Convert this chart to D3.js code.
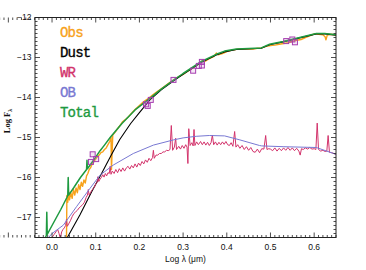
<!DOCTYPE html>
<html>
<head>
<meta charset="utf-8">
<script src="https://cdn.jsdelivr.net/npm/d3@7"></script>
<style>
  body { margin: 0; background: #fff; }
  svg { display: block; }
</style>
</head>
<body>
<div id="chart"></div>
<script>
//Size of the page and the plot box
const width = 366;
const height = 270;
const margin = {left: 35, right: 30, top: 17.5, bottom: 32.5};

//Tick labels
const xTicks = [0.0, 0.1, 0.2, 0.3, 0.4, 0.5, 0.6];
const yTicks = [-17, -16, -15, -14, -13, -12];

//Legend
const legendNames = ["Obs", "Dust", "WR", "OB", "Total"];
const legendColors = ["#f7a21b", "#000000", "#d2336b", "#7878d2", "#1e9a40"];

//Observed spectrum (log lambda, log F)
const obs = [
  [0.033,-17.6],[0.034,-16.45],[0.036,-16.62],[0.038,-16.36],[0.040,-16.56],[0.043,-16.38],[0.046,-16.52],
  [0.049,-16.3],[0.052,-16.44],[0.055,-16.26],[0.058,-16.38],[0.061,-16.18],[0.064,-16.3],[0.067,-16.12],
  [0.070,-16.22],[0.073,-16.06],[0.076,-16.14],[0.079,-15.96],[0.082,-15.9],[0.085,-15.8],[0.088,-15.76],
  [0.091,-15.68],[0.094,-15.64],[0.097,-15.58],[0.100,-15.54],[0.104,-15.48],[0.108,-15.44],[0.112,-15.38],
  [0.116,-15.36],[0.120,-15.3],[0.124,-15.26],[0.128,-15.18],[0.132,-15.1],[0.135,-15.0],[0.136,-15.8],
  [0.139,-14.94],[0.145,-14.86],[0.150,-14.78],[0.157,-14.68],[0.162,-14.6],[0.167,-14.56],[0.175,-14.48],
  [0.183,-14.38],[0.190,-14.3],[0.200,-14.2],[0.210,-14.1],[0.220,-14.03],[0.230,-13.94],[0.240,-13.86],
  [0.250,-13.78],[0.260,-13.7],[0.270,-13.62],[0.280,-13.55],[0.290,-13.48],[0.300,-13.42],[0.310,-13.35],
  [0.320,-13.28],[0.330,-13.2],[0.340,-13.14],[0.345,-13.06],[0.350,-13.1],[0.360,-13.03],[0.370,-12.98],
  [0.376,-12.89],[0.380,-12.93],[0.390,-12.9],[0.400,-12.85],[0.410,-12.82],[0.426,-12.79],[0.440,-12.79],
  [0.460,-12.79],[0.470,-12.77],[0.480,-12.76],[0.490,-12.72],[0.500,-12.7],[0.510,-12.69],[0.520,-12.67],
  [0.530,-12.65],[0.540,-12.63],[0.550,-12.6],[0.560,-12.57],[0.570,-12.55],[0.580,-12.5],[0.590,-12.46],
  [0.600,-12.41],[0.610,-12.42],[0.620,-12.43],[0.625,-12.48],[0.627,-12.56],[0.630,-12.44],[0.640,-12.42],
  [0.650,-12.44]
];

//Dust model
const dust = [
  [0.033,-17.55],[0.035,-17.5],[0.064,-16.93],[0.091,-16.35],[0.114,-15.89],[0.135,-15.45],[0.155,-15.05],
  [0.180,-14.65],[0.200,-14.38],[0.224,-14.06],[0.250,-13.81],[0.280,-13.57],[0.300,-13.42],[0.342,-13.12],
  [0.376,-12.94],[0.395,-12.86],[0.422,-12.8],[0.479,-12.77],[0.498,-12.68],[0.529,-12.61],[0.567,-12.51],
  [0.605,-12.41],[0.624,-12.41],[0.650,-12.44]
];

//WR model spectrum
const wr = [
  [-0.005,-17.62],[0.000,-17.5],[0.005,-17.42],[0.010,-17.34],[0.013,-17.3],[0.016,-17.4],[0.019,-17.52],
  [0.022,-17.36],[0.025,-17.3],[0.028,-17.26],[0.031,-17.2],[0.033,-17.05],[0.035,-17.22],[0.038,-17.16],
  [0.042,-17.08],[0.046,-16.98],[0.050,-16.9],[0.054,-16.86],[0.058,-16.82],[0.062,-16.76],[0.066,-16.72],
  [0.070,-16.68],[0.074,-16.62],[0.078,-16.5],[0.081,-16.44],[0.083,-16.3],[0.085,-16.44],[0.088,-16.38],
  [0.091,-16.32],[0.094,-16.28],[0.097,-16.24],[0.100,-16.16],[0.103,-16.12],[0.105,-15.98],[0.107,-16.1],
  [0.110,-16.04],[0.113,-16.0],[0.116,-15.93],[0.119,-15.99],[0.122,-15.9],[0.125,-15.96],[0.128,-15.88],
  [0.131,-15.9],[0.133,-15.72],[0.135,-15.92],[0.138,-15.84],[0.142,-15.9],[0.146,-15.8],[0.150,-15.88],
  [0.154,-15.78],[0.158,-15.85],[0.162,-15.76],[0.166,-15.84],[0.170,-15.76],[0.174,-15.72],[0.178,-15.79],
  [0.182,-15.7],[0.186,-15.76],[0.190,-15.66],[0.194,-15.74],[0.198,-15.64],[0.202,-15.7],[0.206,-15.6],
  [0.210,-15.66],[0.214,-15.56],[0.218,-15.62],[0.222,-15.52],[0.226,-15.58],[0.230,-15.5],[0.232,-15.32],
  [0.234,-15.52],[0.238,-15.44],[0.242,-15.44],[0.246,-15.4],[0.250,-15.4],[0.254,-15.36],[0.258,-15.36],
  [0.262,-15.32],[0.266,-15.33],[0.270,-15.3],[0.273,-14.7],[0.276,-15.32],[0.280,-15.24],[0.283,-15.02],
  [0.285,-15.3],[0.290,-15.22],[0.294,-15.29],[0.298,-15.2],[0.302,-15.27],[0.306,-15.18],[0.309,-15.24],
  [0.311,-15.65],[0.313,-14.78],[0.316,-15.2],[0.320,-15.13],[0.323,-15.21],[0.325,-14.8],[0.327,-15.2],
  [0.331,-15.11],[0.335,-15.18],[0.340,-15.1],[0.344,-15.18],[0.348,-15.11],[0.352,-15.19],[0.356,-15.12],
  [0.360,-15.2],[0.364,-15.13],[0.367,-14.94],[0.370,-15.18],[0.374,-15.11],[0.378,-15.19],[0.382,-15.12],
  [0.386,-15.18],[0.390,-15.11],[0.394,-15.17],[0.398,-15.1],[0.402,-15.18],[0.406,-15.2],[0.410,-15.13],
  [0.414,-15.22],[0.418,-14.85],[0.421,-15.24],[0.425,-15.18],[0.430,-15.27],[0.435,-15.2],[0.440,-15.3],
  [0.445,-15.23],[0.450,-15.32],[0.455,-15.25],[0.460,-15.35],[0.465,-15.37],[0.470,-15.29],[0.475,-15.38],
  [0.480,-15.28],[0.485,-15.29],[0.489,-14.95],[0.492,-15.3],[0.496,-15.28],[0.500,-15.29],[0.505,-15.33],
  [0.510,-15.26],[0.515,-15.34],[0.520,-15.27],[0.525,-15.33],[0.530,-15.26],[0.535,-15.32],[0.540,-15.25],
  [0.545,-15.32],[0.550,-15.26],[0.555,-15.33],[0.560,-15.27],[0.565,-15.34],[0.568,-15.44],[0.571,-15.28],
  [0.575,-15.3],[0.580,-15.26],[0.585,-15.29],[0.590,-15.25],[0.595,-15.29],[0.600,-15.28],[0.604,-15.3],
  [0.607,-14.64],[0.610,-15.3],[0.615,-15.34],[0.620,-15.32],[0.625,-15.35],[0.629,-15.34],[0.632,-14.95],
  [0.635,-15.37],[0.640,-15.38],[0.645,-15.4],[0.650,-15.42]
];

//OB model
const ob = [
  [-0.016,-17.6],[0.000,-17.4],[0.026,-17.19],[0.056,-16.73],[0.087,-16.27],[0.110,-15.94],[0.140,-15.69],
  [0.186,-15.4],[0.232,-15.19],[0.278,-15.06],[0.300,-15.01],[0.330,-14.97],[0.360,-14.95],[0.395,-14.96],
  [0.430,-15.06],[0.475,-15.2],[0.480,-15.21],[0.529,-15.23],[0.605,-15.25],[0.650,-15.42]
];

//Total model
const total = [
  [-0.020,-17.6],[-0.013,-17.45],[-0.012,-16.87],[-0.011,-17.42],[0.000,-17.2],[0.010,-17.0],[0.020,-16.8],
  [0.034,-16.5],[0.036,-16.45],[0.037,-16.0],[0.038,-16.44],[0.050,-16.25],[0.065,-16.0],[0.079,-15.8],
  [0.080,-15.57],[0.081,-15.78],[0.095,-15.57],[0.110,-15.33],[0.120,-15.19],[0.133,-15.0],[0.160,-14.65],
  [0.190,-14.31],[0.224,-14.02],[0.250,-13.79],[0.279,-13.56],[0.300,-13.4],[0.342,-13.1],[0.376,-12.92],
  [0.395,-12.84],[0.422,-12.79],[0.479,-12.76],[0.498,-12.67],[0.529,-12.6],[0.567,-12.5],[0.605,-12.4],
  [0.624,-12.4],[0.650,-12.43]
];

//Photometry points
const phot = [
  [0.089,-15.61],[0.093,-15.42],[0.101,-15.54],[0.215,-14.17],[0.219,-14.21],[0.226,-14.06],[0.278,-13.56],
  [0.323,-13.33],[0.336,-13.21],[0.343,-13.2],[0.343,-13.11],[0.536,-12.59],[0.550,-12.55],[0.556,-12.62]
];

const x = d3.scaleLinear().domain([-0.039, 0.65]).range([margin.left, width - margin.right]);
const y = d3.scaleLinear().domain([-17.5, -12]).range([height - margin.bottom, margin.top]);

const svg = d3.create("svg")
    .attr("width", width)
    .attr("height", height)
    .attr("viewBox", [0, 0, width, height]);

svg.append("defs").append("clipPath")
    .attr("id", "plotclip")
    .append("rect")
    .attr("x", x.range()[0])
    .attr("y", y.range()[1])
    .attr("width", x.range()[1] - x.range()[0])
    .attr("height", y.range()[0] - y.range()[1]);

const line = d3.line().x(d => x(d[0])).y(d => y(d[1]));
const plot = svg.append("g").attr("clip-path", "url(#plotclip)");

//Draw the spectra, same order as the legend
const series = [
  {data: obs, color: legendColors[0], w: 1.4},
  {data: dust, color: legendColors[1], w: 1.1},
  {data: wr, color: legendColors[2], w: 1},
  {data: ob, color: legendColors[3], w: 1},
  {data: total, color: legendColors[4], w: 1.5}
];
plot.selectAll("path.spec")
    .data(series)
    .join("path")
    .attr("class", "spec")
    .attr("fill", "none")
    .attr("stroke", d => d.color)
    .attr("stroke-width", d => d.w)
    .attr("stroke-linejoin", "round")
    .attr("d", d => line(d.data));

//Square markers
plot.selectAll("rect.phot")
    .data(phot)
    .join("rect")
    .attr("class", "phot")
    .attr("x", d => x(d[0]) - 2.5)
    .attr("y", d => y(d[1]) - 2.5)
    .attr("width", 5)
    .attr("height", 5)
    .attr("fill", "#cc88cc")
    .attr("fill-opacity", 0.2)
    .attr("stroke", "#a63cb0")
    .attr("stroke-width", 1);

//Box
const axisColor = "#222";
svg.append("rect")
    .attr("x", x.range()[0])
    .attr("y", y.range()[1])
    .attr("width", x.range()[1] - x.range()[0])
    .attr("height", y.range()[0] - y.range()[1])
    .attr("fill", "none")
    .attr("stroke", axisColor)
    .attr("stroke-width", 1);

//Ticks pointing inward (IDL style)
const xMinor = d3.range(-30, 66).map(i => i / 100);
const yMinor = d3.range(-175, -119).map(i => i / 10);
const ticks = svg.append("g").attr("stroke", axisColor).attr("stroke-width", 0.8);
const isMajorX = v => Math.abs(v * 10 - Math.round(v * 10)) < 1e-6;
const isMajorY = v => Math.abs(v - Math.round(v)) < 1e-6;

[y.range()[0], y.range()[1]].forEach((yy, k) => {
  ticks.selectAll(null)
      .data(xMinor)
      .join("line")
      .attr("x1", d => x(d))
      .attr("x2", d => x(d))
      .attr("y1", yy)
      .attr("y2", d => yy + (k === 0 ? -1 : 1) * (isMajorX(d) ? 5 : 2.5));
});
[x.range()[0], x.range()[1]].forEach((xx, k) => {
  ticks.selectAll(null)
      .data(yMinor)
      .join("line")
      .attr("y1", d => y(d))
      .attr("y2", d => y(d))
      .attr("x1", xx)
      .attr("x2", d => xx + (k === 0 ? 1 : -1) * (isMajorY(d) ? 5 : 2.5));
});

//Tick labels
svg.append("g")
    .selectAll("text")
    .data(xTicks)
    .join("text")
    .attr("x", d => x(d))
    .attr("y", 250)
    .attr("text-anchor", "middle")
    .attr("font-family", "Liberation Sans, Arial, sans-serif")
    .attr("font-size", 8.5)
    .attr("fill", "#111")
    .text(d => d3.format(".1f")(d));

svg.append("g")
    .selectAll("text")
    .data(yTicks)
    .join("text")
    .attr("x", 31.5)
    .attr("y", d => y(d))
    .attr("dy", "0.35em")
    .attr("text-anchor", "end")
    .attr("font-family", "Liberation Sans, Arial, sans-serif")
    .attr("font-size", 8.5)
    .attr("fill", "#111")
    .text(d => "\u2212" + Math.abs(d));

//Axis titles
svg.append("text")
    .attr("x", (x.range()[0] + x.range()[1]) / 2)
    .attr("y", 262)
    .attr("text-anchor", "middle")
    .attr("font-family", "Liberation Sans, Arial, sans-serif")
    .attr("font-size", 8.5)
    .attr("fill", "#111")
    .text("Log \u03bb (\u03bcm)");

const ylab = svg.append("text")
    .attr("transform", "translate(10,121) rotate(-90)")
    .attr("text-anchor", "middle")
    .attr("font-family", "Liberation Serif, Times New Roman, serif")
    .attr("font-weight", "bold")
    .attr("font-size", 8.5)
    .attr("fill", "#111");
ylab.append("tspan").text("Log F");
ylab.append("tspan").attr("font-size", 6).attr("dy", 2).text("\u03bb");

//Legend
svg.append("g")
    .selectAll("text")
    .data(legendNames)
    .join("text")
    .attr("x", 60)
    .attr("y", (d, i) => 36.5 + i * 20)
    .attr("font-family", "Liberation Mono, DejaVu Sans Mono, monospace")
    .attr("font-size", 14)
    .attr("letter-spacing", -0.8)
    .attr("fill", (d, i) => legendColors[i])
    .attr("stroke", (d, i) => legendColors[i])
    .attr("stroke-width", 0.35)
    .text(d => d);

d3.select("#chart").node().append(svg.node());
</script>
</body>
</html>
